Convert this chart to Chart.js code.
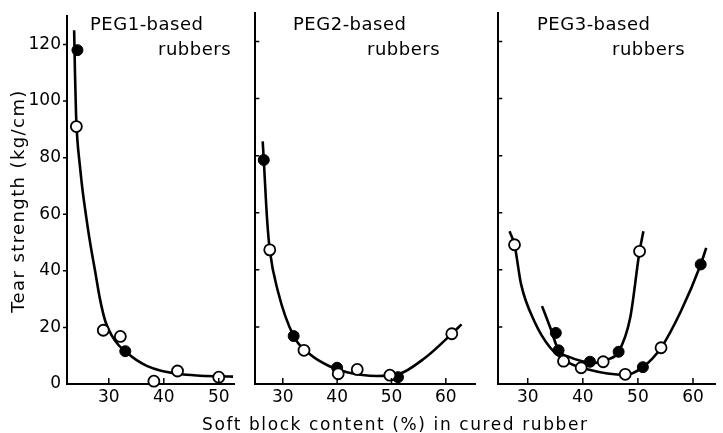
<!DOCTYPE html>
<html>
<head>
<meta charset="utf-8">
<script src="https://cdn.jsdelivr.net/npm/chart.js@4.4.1/dist/chart.umd.min.js"></script>
<style>
  body { margin: 0; background: #fff; }
  #wrap { position: relative; width: 723px; height: 433px; overflow: hidden; background: #fff; }
  canvas { position: absolute; top: 0; }
  .lbl { position: absolute; font-family: 'DejaVu Sans', sans-serif; color: #000; white-space: nowrap; }
  .peg { font-size: 18px; line-height: 18px; letter-spacing: 0.5px; }
</style>
</head>
<body>
<div id="wrap">
  <canvas id="c1" width="242" height="415" style="left:0px"></canvas>
  <canvas id="c2" width="235" height="415" style="left:248px"></canvas>
  <canvas id="c3" width="232" height="415" style="left:491px"></canvas>

  <div class="lbl peg" style="left:90px;top:15px">PEG1-based</div>
  <div class="lbl peg" style="left:158px;top:40px">rubbers</div>
  <div class="lbl peg" style="left:293px;top:15px">PEG2-based</div>
  <div class="lbl peg" style="left:367px;top:40px">rubbers</div>
  <div class="lbl peg" style="left:537px;top:15px">PEG3-based</div>
  <div class="lbl peg" style="left:612px;top:40px">rubbers</div>

  <div class="lbl" style="left:-102px;top:191px;width:240px;height:20px;line-height:20px;text-align:center;font-size:18px;letter-spacing:1.4px;transform:rotate(-90deg)">Tear strength (kg/cm)</div>
  <div class="lbl" style="left:202px;top:416px;font-size:17px;line-height:17px;letter-spacing:1.6px">Soft block content (%) in cured rubber</div>
</div>

<script>
// tick values
var yTicks = [0, 20, 40, 60, 80, 100, 120];
var xTicks1 = [30, 40, 50];
var xTicks2 = [30, 40, 50, 60];
var xTicks3 = [30, 40, 50, 60];

// PEG1-based rubbers
var peg1OpenX = [24.1, 29.0, 32.1, 38.2, 42.5, 50.0];
var peg1OpenY = [91, 19, 16.8, 1, 4.6, 2.4];
var peg1FillX = [24.3, 33.0];
var peg1FillY = [118, 11.6];
var peg1CurveX = [23.7, 23.85, 24.05, 24.3, 24.7, 25.2, 25.9, 26.6, 27.5, 28.4, 29.4, 30.5, 31.8, 33.2, 35.0, 36.9, 39.5, 42.6, 46.0, 50.0, 52.6];
var peg1CurveY = [125, 110, 95, 86, 78, 69, 59, 50, 40, 30, 22, 17.3, 13.7, 11.2, 8.5, 6.4, 4.7, 3.6, 3.0, 2.7, 2.6];

// PEG2-based rubbers
var peg2OpenX = [27.6, 33.9, 40.2, 43.7, 49.7, 61.1];
var peg2OpenY = [47, 11.8, 3.6, 5.1, 3.1, 17.6];
var peg2FillX = [26.5, 32.0, 40.0, 51.2];
var peg2FillY = [78.5, 16.8, 5.7, 2.4];
var peg2CurveX = [26.3, 26.5, 27.1, 27.6, 29.1, 32.0, 35.0, 38.5, 42.0, 47.3, 51.2, 56.2, 61.1, 62.9];
var peg2CurveY = [85, 78.5, 58, 47, 32.5, 16.8, 10.4, 6.3, 4.0, 2.8, 3.4, 9.2, 17.6, 20.9];

// PEG3-based rubbers
var peg3OpenX = [27.6, 36.5, 39.7, 43.7, 47.7, 50.3, 54.2];
var peg3OpenY = [48.8, 8, 5.7, 7.8, 3.4, 46.5, 12.7];
var peg3FillX = [35.1, 35.6, 41.3, 46.5, 50.9, 61.4];
var peg3FillY = [17.9, 11.8, 7.8, 11.3, 5.9, 41.9];
var peg3CurveAX = [26.7, 27.6, 28.8, 31.2, 34.1, 37.5, 41.0, 44.5, 47.7, 50.9, 54.2, 57.8, 61.4, 62.4];
var peg3CurveAY = [53.5, 48.8, 34.9, 22, 12.7, 7.4, 5.1, 3.7, 3.2, 5.9, 12.7, 25.5, 41.9, 47.7];
var peg3CurveBX = [32.6, 34.1, 35.6, 37.5, 39.9, 42.2, 44.5, 46.5, 48.6, 50.3, 51.0];
var peg3CurveBY = [27.3, 19.7, 11.8, 9.5, 8.0, 7.4, 8.6, 11.3, 23.2, 46.5, 53.5];

Chart.defaults.font.family = "'DejaVu Sans', sans-serif";
Chart.defaults.font.size = 17;
Chart.defaults.color = '#000';

function pts(xs, ys) {
  return xs.map(function(x, i) { return {x: x, y: ys[i]}; });
}

function openSet(xs, ys) {
  return { data: pts(xs, ys), pointRadius: 5.5, pointBorderWidth: 1.8,
    pointBackgroundColor: '#fff', pointBorderColor: '#000', showLine: false, clip: false };
}
function fillSet(xs, ys) {
  return { data: pts(xs, ys), pointRadius: 5.5, pointBorderWidth: 1,
    pointBackgroundColor: '#000', pointBorderColor: '#000', showLine: false, clip: false };
}
function curveSet(xs, ys) {
  return { data: pts(xs, ys), showLine: true, pointRadius: 0, borderColor: '#000',
    borderWidth: 2.6, cubicInterpolationMode: 'monotone', clip: false };
}

// small tick marks on the axes (inward on x, y depends on panel)
var tickMarks = {
  id: 'tickMarks',
  afterDraw: function(chart, args, opts) {
    var ctx = chart.ctx, xs = chart.scales.x, ys = chart.scales.y;
    ctx.save();
    ctx.strokeStyle = '#000';
    ctx.lineWidth = 1.5;
    ctx.beginPath();
    opts.xTicks.forEach(function(v) {
      var px = xs.getPixelForValue(v);
      ctx.moveTo(px, ys.bottom);
      ctx.lineTo(px, ys.bottom - 6);
    });
    yTicks.forEach(function(v) {
      if (v === 0) return;
      var py = ys.getPixelForValue(v);
      ctx.moveTo(xs.left, py);
      ctx.lineTo(xs.left + opts.yDir * 4, py);
    });
    ctx.stroke();
    ctx.restore();
  }
};

function makeChart(id, datasets, xMin, xMax, xTicks, yWidth, showY, yDir) {
  return new Chart(document.getElementById(id), {
    type: 'scatter',
    data: { datasets: datasets },
    options: {
      responsive: false,
      animation: false,
      devicePixelRatio: 1,
      layout: { padding: { top: 13, right: 0, left: 0, bottom: 0 } },
      plugins: { legend: { display: false }, tooltip: { enabled: false },
        tickMarks: { xTicks: xTicks, yDir: yDir } },
      scales: {
        x: {
          type: 'linear', min: xMin, max: xMax,
          grid: { display: false, drawTicks: false },
          border: { display: true, color: '#000', width: 2 },
          ticks: { padding: 3 },
          afterBuildTicks: function(s) { s.ticks = xTicks.map(function(v) { return {value: v}; }); },
          afterFit: function(s) { s.height = 31; }
        },
        y: {
          min: 0, max: 130,
          grid: { display: false, drawTicks: false },
          border: { display: true, color: '#000', width: 2 },
          ticks: { display: showY, padding: 6 },
          afterBuildTicks: function(s) { s.ticks = yTicks.map(function(v) { return {value: v}; }); },
          afterFit: function(s) { s.width = yWidth; }
        }
      }
    },
    plugins: [tickMarks]
  });
}

makeChart('c1', [
  openSet(peg1OpenX, peg1OpenY),
  fillSet(peg1FillX, peg1FillY),
  curveSet(peg1CurveX, peg1CurveY)
], 22.4, 52.9, xTicks1, 67, true, -1);

makeChart('c2', [
  openSet(peg2OpenX, peg2OpenY),
  fillSet(peg2FillX, peg2FillY),
  curveSet(peg2CurveX, peg2CurveY)
], 24.94, 65.5, xTicks2, 5, false, 1);

makeChart('c3', [
  openSet(peg3OpenX, peg3OpenY),
  fillSet(peg3FillX, peg3FillY),
  curveSet(peg3CurveAX, peg3CurveAY),
  curveSet(peg3CurveBX, peg3CurveBY)
], 24.66, 64.12, xTicks3, 5, false, 1);
</script>
</body>
</html>
